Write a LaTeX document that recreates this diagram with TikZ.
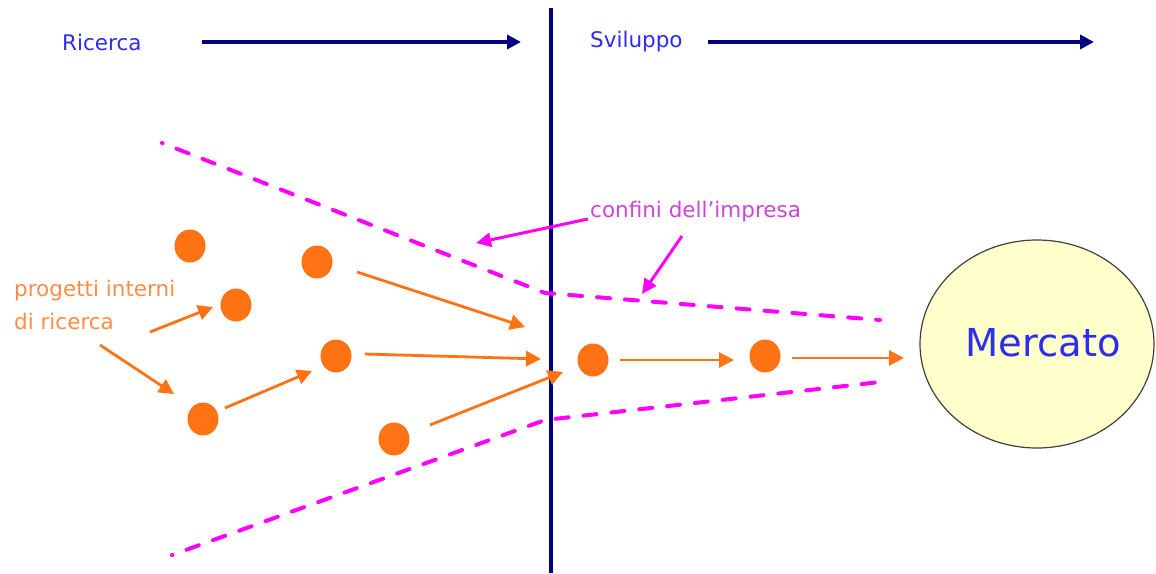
\documentclass[tikz,border=0pt]{standalone}
\usepackage{fontspec}
\setmainfont{DejaVu Sans}
\usetikzlibrary{arrows.meta,shapes.geometric}
\definecolor{navyc}{RGB}{0,0,128}
\definecolor{txtblue}{RGB}{45,45,240}
\definecolor{magc}{RGB}{255,0,255}
\definecolor{magtxt}{RGB}{205,70,215}
\definecolor{dotor}{RGB}{255,115,20}
\definecolor{ortxt}{RGB}{255,140,70}
\definecolor{mktfill}{RGB}{255,255,204}
\tikzset{
  lbl/.style={inner sep=0pt, anchor=west, font=\fontsize{21.5}{26}\selectfont},
  navyarrow/.style={draw=navyc, line width=4pt, -{Triangle[length=14pt,width=14pt]}},
  bound/.style={draw=magc, line width=4pt, line cap=round, dash pattern=on 13pt off 15pt, dash phase=12.5pt},
  magarrow/.style={draw=magc, line width=3pt, -{Triangle[length=15pt,width=14pt]}},
  dot/.style={ellipse, fill=dotor, inner sep=0pt, minimum width=31pt, minimum height=33pt},
  orarrow/.style={draw=dotor, line width=2.8pt, -{Triangle[length=15pt,width=15pt]}},
}
\begin{document}
\begin{tikzpicture}[x=1pt,y=-1pt]
\useasboundingbox (0,0) rectangle (1156,573);
\fill[white] (0,0) rectangle (1156,573);
% header
\node[lbl, text=txtblue] (ric) at (62,42) {Ricerca};
\node[lbl, text=txtblue] (svi) at (590,42) {Sviluppo};
\coordinate (a1s) at (202,42); \coordinate (a1e) at (521,42);
\coordinate (a2s) at (708,42); \coordinate (a2e) at (1094,42);
\draw[navyarrow] (a1s) -- (a1e);
\draw[navyarrow] (a2s) -- (a2e);
% vertical divider
\coordinate (vt) at (551,8); \coordinate (vb) at (551,573);
\draw[navyc, line width=4pt] (vt) -- (vb);
% boundaries
\coordinate (u1) at (162,143); \coordinate (u2) at (545,293); \coordinate (u3) at (880,320);
\coordinate (l1) at (172,555); \coordinate (l2) at (545,420); \coordinate (l3) at (880,382);
\draw[bound] (u1) -- (u2) -- (u3);
\draw[bound] (l1) -- (l2) -- (l3);
% confini label
\node[lbl, text=magtxt] (conf) at (590,212) {confini dell’impresa};
\coordinate (m1s) at (588,219); \coordinate (m1e) at (476,243);
\coordinate (m2s) at (682,236); \coordinate (m2e) at (642,294);
\draw[magarrow] (m1s) -- (m1e);
\draw[magarrow] (m2s) -- (m2e);
% dots
\node[dot] (d1) at (190,246) {};
\node[dot] (d2) at (317,262) {};
\node[dot] (d3) at (236,305) {};
\node[dot] (d4) at (336,356) {};
\node[dot] (d5) at (203,419) {};
\node[dot] (d6) at (394,439) {};
\node[dot] (d7) at (593,360) {};
\node[dot] (d8) at (765,356) {};
% label
\node[lbl, text=ortxt] (prog1) at (14,291) {progetti interni};
\node[lbl, text=ortxt] (prog2) at (14,321) {di ricerca};
\coordinate (p1s) at (150,332); \coordinate (p1e) at (213,307);
\coordinate (p2s) at (100,345); \coordinate (p2e) at (174,394);
\draw[orarrow] (p1s) -- (p1e);
\draw[orarrow] (p2s) -- (p2e);
\coordinate (s5) at (225,408); \coordinate (t5) at (312,371);
\coordinate (s2) at (357,272); \coordinate (e2) at (525,327);
\coordinate (s4) at (365,354); \coordinate (e4) at (541,359);
\coordinate (s6) at (430,425); \coordinate (e6) at (563,372);
\coordinate (s7) at (620,360); \coordinate (t7) at (734,360);
\coordinate (s8) at (792,358); \coordinate (t8) at (904,358);
\draw[orarrow] (s5) -- (t5);
\draw[orarrow] (s2) -- (e2);
\draw[orarrow] (s4) -- (e4);
\draw[orarrow] (s6) -- (e6);
\draw[orarrow] (s7) -- (t7);
% Mercato
\node[ellipse, draw=black!75, line width=1.2pt, fill=mktfill, minimum width=234pt, minimum height=208pt, inner sep=0pt] (mkt) at (1037,344) {};
\node[inner sep=0pt, text=txtblue, font=\fontsize{38.5}{44}\selectfont] (mktl) at (1043,343) {Mercato};
\draw[orarrow] (s8) -- (t8);
\end{tikzpicture}
\end{document}
